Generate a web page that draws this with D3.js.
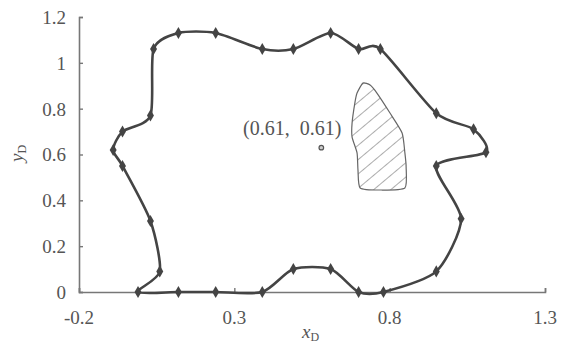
<!DOCTYPE html>
<html>
<head>
<meta charset="utf-8">
<script src="https://cdn.jsdelivr.net/npm/d3@7"></script>
<style>
  body { margin: 0; background: #fff; }
  text { font-family: "Liberation Serif", "DejaVu Serif", serif; fill: #555; white-space: pre; }
</style>
</head>
<body>
<div class="canvas"></div>
<script>
// boundary points, clockwise from the bottom left
const boundaryX = [-0.01, 0.06, 0.03, -0.06, -0.09, -0.06, 0.03, 0.04, 0.12, 0.24, 0.39, 0.49, 0.61, 0.70, 0.77,
  0.95, 1.07, 1.11, 0.95, 1.03, 0.95, 0.78, 0.70, 0.61, 0.49, 0.39, 0.24, 0.12];
const boundaryY = [0, 0.09, 0.31, 0.55, 0.62, 0.70, 0.77, 1.06, 1.13, 1.13, 1.06, 1.06, 1.13, 1.06, 1.06,
  0.78, 0.71, 0.61, 0.55, 0.32, 0.09, 0, 0, 0.10, 0.10, 0, 0, 0];

// hatched area
const areaX = [0.714, 0.737, 0.759, 0.801, 0.840, 0.849, 0.853, 0.849, 0.769, 0.705, 0.698, 0.695, 0.679, 0.679, 0.688, 0.695];
const areaY = [0.912, 0.903, 0.868, 0.781, 0.694, 0.607, 0.545, 0.454, 0.445, 0.454, 0.532, 0.607, 0.676, 0.737, 0.825, 0.868];

const centre = { x: 0.58, y: 0.63, label: '(0.61,  0.61)' };

const xTicks = [-0.2, 0.3, 0.8, 1.3];
const yTicks = [0, 0.2, 0.4, 0.6, 0.8, 1, 1.2];

const width = 565;
const height = 347;
const margin = { top: 17, right: 20, bottom: 55, left: 79 };

const svg = d3.select('.canvas')
  .append('svg')
  .attr('width', width)
  .attr('height', height);

const x = d3.scaleLinear().domain([-0.2, 1.3]).range([margin.left, width - margin.right]);
const y = d3.scaleLinear().domain([0, 1.2]).range([height - margin.bottom, margin.top]);

// hatch pattern
svg.append('defs').append('pattern')
  .attr('id', 'hatch')
  .attr('patternUnits', 'userSpaceOnUse')
  .attr('width', 11)
  .attr('height', 11)
  .attr('patternTransform', 'rotate(50)')
  .append('line')
  .attr('x1', 0).attr('y1', 0)
  .attr('x2', 0).attr('y2', 11)
  .attr('stroke', '#666')
  .attr('stroke-width', 1.1);

// axes
const xAxis = d3.axisTop(x).tickValues(xTicks).tickSize(4).tickFormat('');
const yAxis = d3.axisRight(y).tickValues(yTicks).tickSize(4).tickFormat('');

const xAxisGroup = svg.append('g').attr('transform', `translate(0, ${y(0)})`).call(xAxis);
const yAxisGroup = svg.append('g').attr('transform', `translate(${x(-0.2)}, 0)`).call(yAxis);

[xAxisGroup, yAxisGroup].forEach(g => {
  g.select('.domain').attr('stroke', '#777').attr('stroke-width', 1.6);
  g.selectAll('.tick line').attr('stroke', '#777').attr('stroke-width', 1.4);
});

svg.append('g').selectAll('text')
  .data(yTicks)
  .enter().append('text')
  .attr('x', x(-0.2) - 13)
  .attr('y', d => y(d))
  .attr('dy', '0.36em')
  .attr('text-anchor', 'end')
  .attr('font-size', 19)
  .text(d => d);

svg.append('g').selectAll('text')
  .data(xTicks)
  .enter().append('text')
  .attr('x', d => x(d))
  .attr('y', y(0) + 32)
  .attr('text-anchor', 'middle')
  .attr('font-size', 19)
  .text(d => d);

// axis titles
const xTitle = svg.append('text')
  .attr('x', 302)
  .attr('y', 338)
  .attr('font-size', 19)
  .attr('font-style', 'italic');
xTitle.append('tspan').text('x');
xTitle.append('tspan').attr('font-size', 12).attr('font-style', 'normal').attr('dy', 3).text('D');

const yTitle = svg.append('text')
  .attr('transform', 'translate(23, 162) rotate(-90)')
  .attr('font-size', 19)
  .attr('font-style', 'italic');
yTitle.append('tspan').text('y');
yTitle.append('tspan').attr('font-size', 12).attr('font-style', 'normal').attr('dy', 3).text('D');

// hatched area
const areaPts = areaX.map((d, i) => [x(d), y(areaY[i])]);
svg.append('path')
  .attr('d', d3.line().curve(d3.curveCardinalClosed.tension(0.4))(areaPts))
  .attr('fill', 'url(#hatch)')
  .attr('stroke', '#666')
  .attr('stroke-width', 1.2);

// boundary
const boundaryPts = boundaryX.map((d, i) => [x(d), y(boundaryY[i])]);
svg.append('path')
  .attr('d', d3.line().curve(d3.curveCardinalClosed.tension(0.25))(boundaryPts))
  .attr('fill', 'none')
  .attr('stroke', '#444')
  .attr('stroke-width', 2.6);

svg.append('g').selectAll('path')
  .data(boundaryPts)
  .enter().append('path')
  .attr('d', d3.symbol().type(d3.symbolDiamond).size(42))
  .attr('transform', d => `translate(${d[0]}, ${d[1]})`)
  .attr('fill', '#444');

// centre point
svg.append('circle')
  .attr('cx', x(centre.x))
  .attr('cy', y(centre.y))
  .attr('r', 2.3)
  .attr('fill', '#ccc')
  .attr('stroke', '#555')
  .attr('stroke-width', 1.2);

svg.append('text')
  .attr('x', x(centre.x) + 20)
  .attr('y', y(centre.y) - 13)
  .attr('text-anchor', 'end')
  .attr('font-size', 20)
  .text(centre.label);
</script>
</body>
</html>
